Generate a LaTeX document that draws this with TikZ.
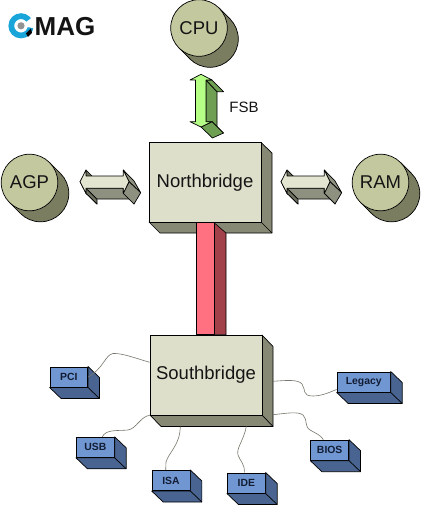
\documentclass[tikz,border=0pt]{standalone}
\usepackage{fontspec}
\usetikzlibrary{calc}
\setmainfont{Liberation Sans}
\definecolor{circF}{HTML}{C3C89F}
\definecolor{circS}{HTML}{7A7D60}
\definecolor{boxF}{HTML}{DEDFCB}
\definecolor{boxS}{HTML}{878975}
\definecolor{arrF}{HTML}{E3E5D0}
\definecolor{arrM}{HTML}{8E9080}
\definecolor{arrD}{HTML}{6F7160}
\definecolor{grnF}{HTML}{B6FF86}
\definecolor{grnS}{HTML}{6F9F52}
\definecolor{redF}{HTML}{FF7080}
\definecolor{redS}{HTML}{A3414A}
\definecolor{blueF}{HTML}{7097D2}
\definecolor{blueS}{HTML}{4A6491}
\definecolor{ink}{HTML}{141414}
\definecolor{navy}{HTML}{121C33}
\definecolor{logoB}{HTML}{1AA5DA}
\definecolor{wire}{HTML}{77776C}
\tikzset{
  x=1pt,y=-1pt,
  edge/.style={draw=black,line width=0.7pt,line join=round},
  ball/.style={circle,edge,fill=circF,inner sep=0pt,minimum size=56.6pt,text=ink,font=\fontsize{18.5}{20}\selectfont},
  chip/.style={rectangle,edge,fill=boxF,inner sep=0pt,minimum width=112pt,minimum height=80pt,text=ink,font=\fontsize{18.5}{20}\selectfont},
  port/.style={rectangle,edge,fill=blueF,inner sep=0pt,minimum height=20.3pt,text=navy,font=\fontsize{10.4}{12}\selectfont\bfseries},
  wirel/.style={draw=wire,line width=0.6pt},
}
\newcommand{\ballshadow}[1]{%
  \fill[circS,draw=black,line width=0.7pt] ($(#1)+(11,11)$) circle[radius=28.3];
  \fill[circS] ($(#1)+(-20,20)$) -- ($(#1)+(20,-20)$) -- ($(#1)+(31,-9)$) -- ($(#1)+(-9,31)$) -- cycle;
  \draw[edge] ($(#1)+(-20,20)$) -- ($(#1)+(-9,31)$);
  \draw[edge] ($(#1)+(20,-20)$) -- ($(#1)+(31,-9)$);
}
% horizontal double arrow, origin = left tip of the front face
\newcommand{\harrow}[1]{%
 \begin{scope}[shift={(#1)}]
  \filldraw[edge,fill=arrD] (6,-11.7) -- (17,-0.7) -- (17,5) -- (6,-5.7) -- cycle;
  \filldraw[edge,fill=arrD] (0,0) -- (6,11.6) -- (17,22.3) -- (11,11) -- cycle;
  \filldraw[edge,fill=arrD] (6,6.6) -- (6,11.6) -- (17,22.3) -- (17,17.3) -- cycle;
  \filldraw[edge,fill=arrM] (6,6.6) -- (43.3,6.6) -- (54,17.3) -- (17,17.3) -- cycle;
  \filldraw[edge,fill=arrD] (43.3,6.6) -- (43.3,11.6) -- (54,22.3) -- (54,17.3) -- cycle;
  \filldraw[edge,fill=arrM] (43.3,-11.7) -- (49,0) -- (60.7,11) -- (54,-0.7) -- cycle;
  \filldraw[edge,fill=arrM] (49,0) -- (43.3,11.6) -- (54,22.3) -- (60.7,11) -- cycle;
  \filldraw[edge,fill=arrF] (0,0) -- (6,-11.7) -- (6,-5.7) -- (43.3,-5.7) -- (43.3,-11.7) -- (49,0) -- (43.3,11.6) -- (43.3,6.6) -- (6,6.6) -- (6,11.6) -- cycle;
 \end{scope}}
\begin{document}
\begin{tikzpicture}
\useasboundingbox (0,0) rectangle (420,505);
\fill[white] (0,0) rectangle (420,505);
% logo
\fill[logoB,even odd rule] (21,25.8) circle[radius=12.6] (21,25.8) circle[radius=6.8];
\fill[white] (21,25.8) -- (38,13) -- (38,29) -- cycle;
\fill[black] (26,33.5) -- (31,28.5) -- (32,33) -- (28,37) -- cycle;
\fill[gray!85] (21,25.8) circle[radius=3.6];
\node[inner sep=0pt,anchor=base west,font=\fontsize{26}{28}\selectfont\bfseries,text=ink] (logotext) at (34.5,36) {MAG};

% circles
\ballshadow{199,28}
\node[ball] (cpu) at (199,28) {CPU};
\ballshadow{29.5,182.5}
\node[ball] (agp) at (29.5,182.5) {AGP};
\ballshadow{380.5,182.5}
\node[ball] (ram) at (380.5,182.5) {RAM};

% chips
\filldraw[edge,fill=boxS] (149,222) -- (160,233) -- (272,233) -- (272,153) -- (261,142.5) -- (261,222) -- cycle;
\draw[edge] (261,222) -- (272,233);
\node[chip] (nb) at (205,182.3) {Northbridge};
\filldraw[edge,fill=boxS] (150,415) -- (161,426.5) -- (273,426.5) -- (273,346.5) -- (262,335) -- (262,415) -- cycle;
\draw[edge] (262,415) -- (273,426.5);
\node[chip] (sb) at (206,375) {Southbridge};

% red link
\filldraw[fill=redS,draw=black,line width=0.6pt] (nb.south -| 214,0) -- (226,233) -- (sb.north -| 226,0) -- (sb.north -| 214,0) -- cycle;
\filldraw[edge,fill=redF] (nb.south -| 196,0) rectangle (sb.north -| 214,0);

% FSB arrow
\filldraw[edge,fill=grnS] (206,80) -- (217,91.7) -- (217,133) -- (206,121.7) -- cycle;
\filldraw[edge,fill=grnS] (206,80) -- (212,80) -- (223.5,91.7) -- (217,91.7) -- cycle;
\filldraw[edge,fill=grnS] (206,121.7) -- (212,121.7) -- (223.5,133) -- (217,133) -- cycle;
\filldraw[edge,fill=grnS] (201,127) -- (212,121.7) -- (223.5,133) -- (212.5,138) -- cycle;
\filldraw[edge,fill=grnF] (201,74.3) -- (212,80) -- (206,80) -- (206,121.7) -- (212,121.7) -- (201,127) -- (190,121.7) -- (195.5,121.7) -- (195.5,80) -- (190,80) -- cycle;
\node[inner sep=0pt,text=ink,font=\fontsize{15}{17}\selectfont] (fsb) at (244,107) {FSB};

\harrow{80,181.7}
\harrow{281,181.7}

% peripherals
\node[port,minimum width=37.7pt] (pci) at (68.8,377) {PCI};
\node[port,minimum width=38pt] (usb) at (95.3,447.3) {USB};
\node[port,minimum width=38pt] (isa) at (171,480.5) {ISA};
\node[port,minimum width=38pt] (ide) at (246.3,483) {IDE};
\node[port,minimum width=38pt] (bios) at (329.7,450.2) {BIOS};
\node[port,minimum width=53.3pt] (legacy) at (363.7,382) {Legacy};
\foreach \n in {pci,usb,isa,ide,bios,legacy}{
  \draw[edge,fill=blueS] (\n.north east) -- ++(11.5,11) -- ($(\n.south east)+(11.5,11)$) -- ($(\n.south west)+(11.5,11)$) -- (\n.south west) -- (\n.south east) -- cycle;
  \draw[edge] (\n.south east) -- ++(11.5,11);
}

% wires
\draw[wirel] (sb.west |- 0,362.3) .. controls (135,358) and (122,353) .. (113,353.5) .. controls (105,355) and (104,368) .. (pci.east |- 0,377);
\draw[wirel] (sb.south west) .. controls (141,416) and (136,429) .. (128,430) .. controls (118,431) and (106,429) .. (usb.north -| 102.3,0);
\draw[wirel] (180.3,426.5) .. controls (180,445) and (169,452) .. (166,462) -- (isa.north -| 165.7,0);
\draw[wirel] (246.3,426.5) .. controls (244,440) and (236,448) .. (238,455) .. controls (240,461) and (245,464) .. (ide.north -| 244.3,0);
\draw[wirel] (273,381.3) .. controls (285,380.5) and (298,379) .. (302,384) .. controls (306,390) and (302,396) .. (313,396) .. controls (322,396) and (330,392) .. (legacy.west |- 0,389.5);
\draw[wirel] (273,414.7) .. controls (285,413.5) and (298,411) .. (303,415) .. controls (308,420) and (304,426) .. (310,430) .. controls (315,433) and (321,435) .. (bios.north -| 323.3,0);
\end{tikzpicture}
\end{document}
